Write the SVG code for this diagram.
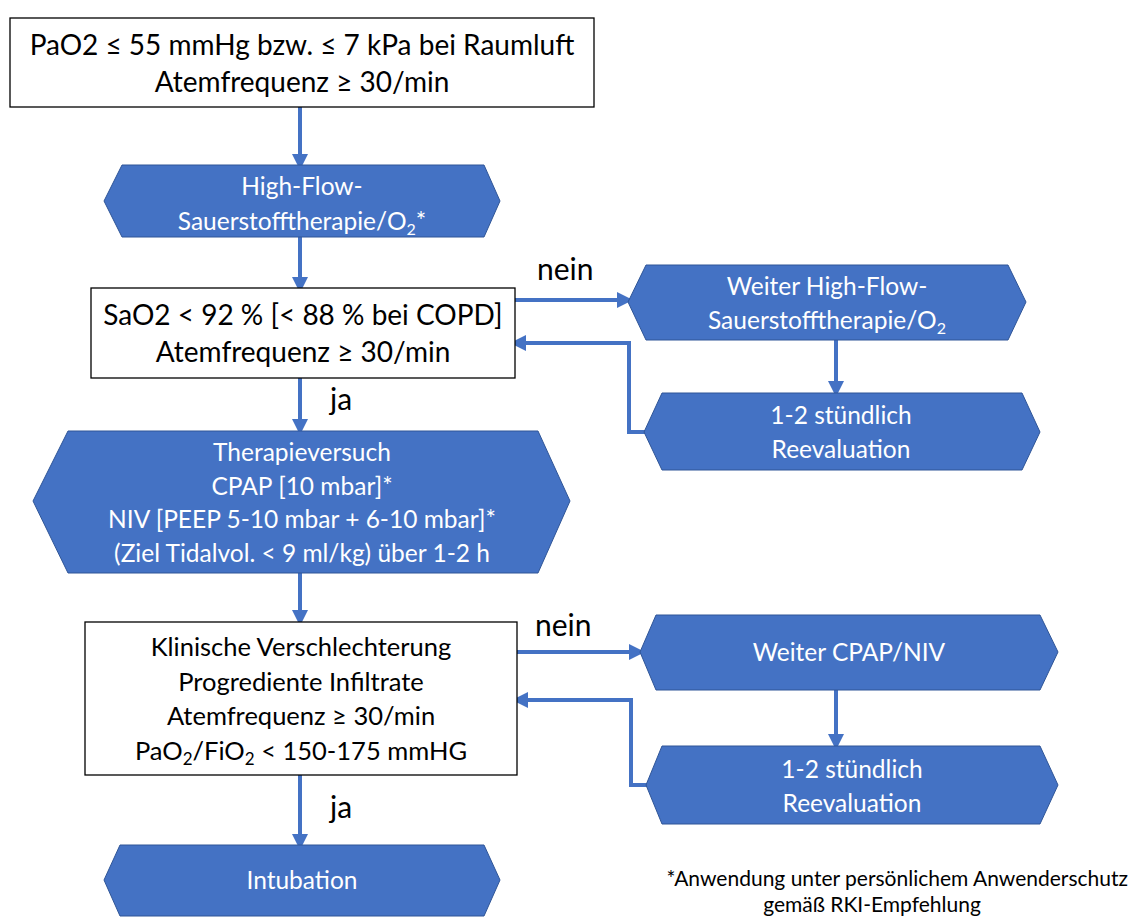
<svg xmlns="http://www.w3.org/2000/svg" width="1132" height="918" viewBox="0 0 1132 918">
<style>
.box{fill:#fff;stroke:#000;stroke-width:1.3}
.hex{fill:#4472C4;stroke:#2F5597;stroke-width:1}
.t{font-family:Lato,"Liberation Sans",sans-serif;font-size:28px;text-anchor:middle;fill:#000}
.t2{font-family:Lato,"Liberation Sans",sans-serif;font-size:25.5px;text-anchor:middle;fill:#000}
.w{font-family:Lato,"Liberation Sans",sans-serif;font-size:24.5px;text-anchor:middle;fill:#fff}
.lbl{font-family:Lato,"Liberation Sans",sans-serif;font-size:30px;fill:#000}
.fn{font-family:Lato,"Liberation Sans",sans-serif;font-size:21px;fill:#000}
.c{fill:none;stroke:#4472C4;stroke-width:4}
</style>
<defs>
<marker id="ah" markerWidth="4" markerHeight="4" refX="1" refY="2" orient="auto" markerUnits="strokeWidth" viewBox="0 0 4 4">
<path d="M0,0 L4,2 L0,4 z" fill="#4472C4"/>
</marker>
</defs>
<g id="connectors">
<path class="c" d="M300,107 V158" marker-end="url(#ah)"/>
<path class="c" d="M300,237 V281" marker-end="url(#ah)"/>
<path class="c" d="M515,300 H621" marker-end="url(#ah)"/>
<path class="c" d="M836,340 V385" marker-end="url(#ah)"/>
<path class="c" d="M646,432 H629 V343 H522" marker-end="url(#ah)"/>
<path class="c" d="M300,378 V423" marker-end="url(#ah)"/>
<path class="c" d="M300,573 V614" marker-end="url(#ah)"/>
<path class="c" d="M517,652 H633" marker-end="url(#ah)"/>
<path class="c" d="M836,690 V738" marker-end="url(#ah)"/>
<path class="c" d="M648,785 H631 V700 H524" marker-end="url(#ah)"/>
<path class="c" d="M300,775 V838" marker-end="url(#ah)"/>
<text class="lbl" x="537" y="280">nein</text>
<text class="lbl" x="330" y="410">ja</text>
<text class="lbl" x="535" y="636">nein</text>
<text class="lbl" x="330" y="818">ja</text>
</g>
<g id="n1">
<rect class="box" x="10" y="18" width="584" height="89"/>
<text class="t" x="302" y="55">PaO2 ≤ 55 mmHg bzw. ≤ 7 kPa bei Raumluft</text>
<text class="t" x="302" y="92">Atemfrequenz ≥ 30/min</text>
</g>
<g id="n2">
<polygon class="hex" points="104,201 122,165 484,165 500,201 484,237 122,237"/>
<text class="w" x="302" y="195">High-Flow-</text>
<text class="w" x="302" y="230">Sauerstofftherapie/O<tspan font-size="16" dy="5">2</tspan><tspan dy="-5">*</tspan></text>
</g>
<g id="n3">
<rect class="box" x="91" y="288" width="424" height="90"/>
<text class="t" x="303" y="325">SaO2 &lt; 92 % [&lt; 88 % bei COPD]</text>
<text class="t" x="303" y="362">Atemfrequenz ≥ 30/min</text>
</g>
<g id="n4">
<polygon class="hex" points="628,302 646,265 1008,265 1026,302 1008,340 646,340"/>
<text class="w" x="827" y="295">Weiter High-Flow-</text>
<text class="w" x="827" y="329">Sauerstofftherapie/O<tspan font-size="16" dy="5">2</tspan></text>
</g>
<g id="n5">
<polygon class="hex" points="644,432 662,393 1022,393 1040,432 1022,470 662,470"/>
<text class="w" x="841" y="424">1-2 stündlich</text>
<text class="w" x="841" y="458">Reevaluation</text>
</g>
<g id="n6">
<polygon class="hex" points="33,501 68,431 538,431 570,501 538,573 68,573"/>
<text class="w" x="302" y="461">Therapieversuch</text>
<text class="w" x="302" y="495">CPAP [10 mbar]*</text>
<text class="w" x="302" y="528">NIV [PEEP 5-10 mbar + 6-10 mbar]*</text>
<text class="w" x="302" y="562">(Ziel Tidalvol. &lt; 9 ml/kg) über 1-2 h</text>
</g>
<g id="n7">
<rect class="box" x="85" y="622" width="432" height="153"/>
<text class="t2" x="301" y="656">Klinische Verschlechterung</text>
<text class="t2" x="301" y="691">Progrediente Infiltrate</text>
<text class="t2" x="301" y="725">Atemfrequenz ≥ 30/min</text>
<text class="t2" x="301" y="760">PaO<tspan font-size="17" dy="5">2</tspan><tspan dy="-5">/FiO</tspan><tspan font-size="17" dy="5">2</tspan><tspan dy="-5"> &lt; 150-175 mmHG</tspan></text>
</g>
<g id="n8">
<polygon class="hex" points="640,652 656,615 1040,615 1058,652 1040,690 656,690"/>
<text class="w" x="849" y="661">Weiter CPAP/NIV</text>
</g>
<g id="n9">
<polygon class="hex" points="646,785 662,746 1040,746 1058,785 1040,824 662,824"/>
<text class="w" x="852" y="778">1-2 stündlich</text>
<text class="w" x="852" y="812">Reevaluation</text>
</g>
<g id="n10">
<polygon class="hex" points="104,880 120,845 484,845 500,880 484,916 120,916"/>
<text class="w" x="302" y="889">Intubation</text>
</g>
<g id="footnote">
<text class="fn" x="1128" y="886" text-anchor="end">*Anwendung unter persönlichem Anwenderschutz</text>
<text class="fn" x="872" y="912" text-anchor="middle">gemäß RKI-Empfehlung</text>
</g>
</svg>
